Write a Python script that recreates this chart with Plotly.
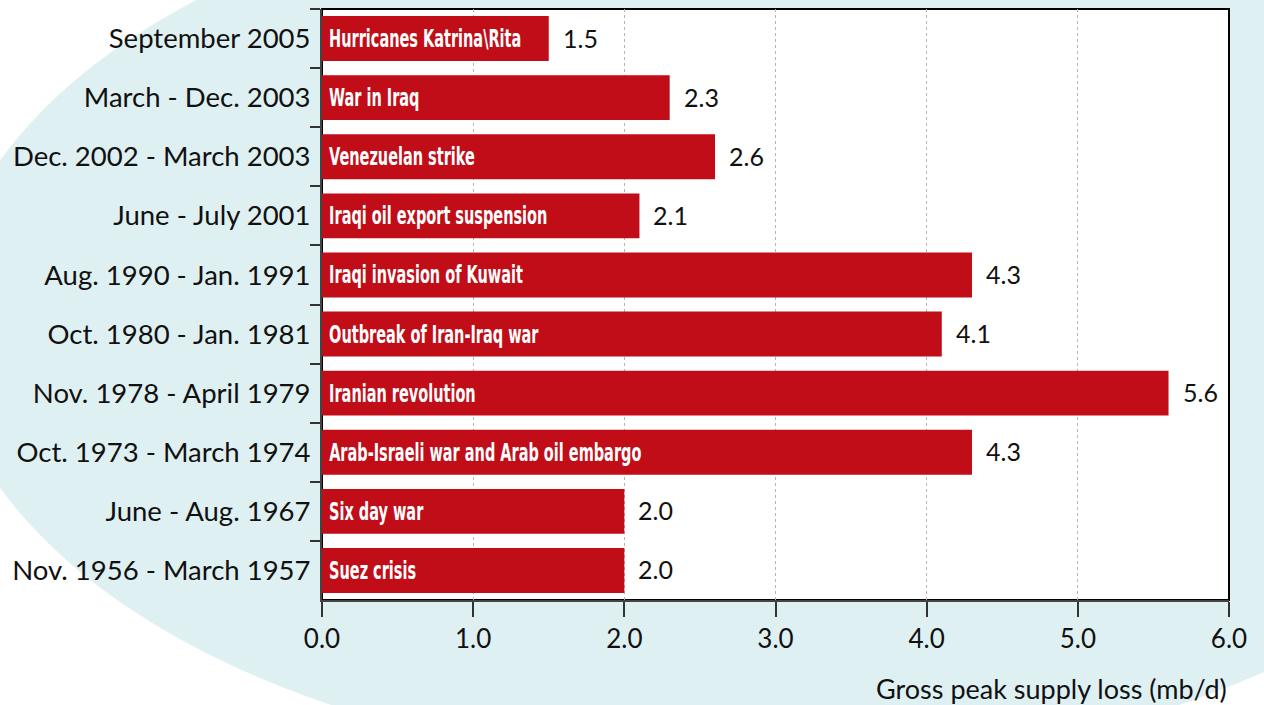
import plotly.graph_objects as go

periods = ["September 2005", "March - Dec. 2003", "Dec. 2002 - March 2003", "June - July 2001",
           "Aug. 1990 - Jan. 1991", "Oct. 1980 - Jan. 1981", "Nov. 1978 - April 1979",
           "Oct. 1973 - March 1974", "June - Aug. 1967", "Nov. 1956 - March 1957"]
events = ["Hurricanes Katrina\\Rita", "War in Iraq", "Venezuelan strike", "Iraqi oil export suspension",
          "Iraqi invasion of Kuwait", "Outbreak of Iran-Iraq war", "Iranian revolution",
          "Arab-Israeli war and Arab oil embargo", "Six day war", "Suez crisis"]
supply_loss = [1.5, 2.3, 2.6, 2.1, 4.3, 4.1, 5.6, 4.3, 2.0, 2.0]
x_ticks = [0, 1, 2, 3, 4, 5, 6]

BAR = "#C10D18"
CYAN = "#DFF0F2"
LABEL_FONT = "Lato"
INNER_FONT = "DejaVu Sans Condensed, Roboto"

fig = go.Figure()
fig.add_trace(go.Bar(
    y=periods, x=supply_loss, orientation="h",
    marker=dict(color=BAR, line=dict(width=0)),
    text=events, textposition="inside", insidetextanchor="start", textangle=0,
    insidetextfont=dict(family=INNER_FONT, size=25, color="white", weight="bold"),
    hoverinfo="skip",
))

annotations = []
for p, v in zip(periods, supply_loss):
    annotations.append(dict(x=v, y=p, xref="x", yref="y", text=f"{v:.1f}", showarrow=False,
                            xanchor="left", yanchor="middle", xshift=12, yshift=1,
                            font=dict(family=LABEL_FONT, size=25, color="#111")))
annotations.append(dict(x=1, y=-0.149, xref="paper", yref="paper", text="Gross peak supply loss (mb/d)",
                        showarrow=False, xanchor="right", yanchor="middle",
                        font=dict(family=LABEL_FONT, size=27, color="#111")))

fig.update_layout(
    width=1264, height=705,
    margin=dict(l=322, r=35, t=9, b=105, pad=0),
    paper_bgcolor="white", plot_bgcolor="white",
    bargap=0.24, showlegend=False,
    uniformtext=dict(mode="show", minsize=25),
    annotations=annotations,
    shapes=[
        dict(type="circle", xref="paper", yref="paper", x0=-0.417, x1=1.372, y0=-0.289, y1=1.223,
             fillcolor=CYAN, line=dict(width=0), layer="below"),
        dict(type="rect", xref="paper", yref="paper", x0=0, x1=1, y0=0, y1=1,
             fillcolor="white", line=dict(color="black", width=2), layer="below"),
    ],
)
fig.update_xaxes(range=[0, 6], tickvals=x_ticks, tickformat=".1f", ticks="outside", ticklen=15,
                 tickwidth=2, tickcolor="#333", showline=True, linecolor="#444", linewidth=2,
                 showgrid=True, gridcolor="#b5b5b5", griddash="dot", gridwidth=1, zeroline=False,
                 tickfont=dict(family=LABEL_FONT, size=26, color="#111"))
fig.update_yaxes(autorange="reversed", ticks="outside", tickson="boundaries", ticklen=10,
                 tickwidth=2, tickcolor="#333", showline=True, linecolor="#444", linewidth=2,
                 showgrid=False, ticklabelstandoff=4,
                 tickfont=dict(family=LABEL_FONT, size=27.5, color="#111"))

# condense the in-bar labels horizontally (the original uses a condensed typeface)
post = """
document.body.style.margin='0px';document.body.style.overflow='hidden';
var gd = document.getElementsByClassName('plotly-graph-div')[0];
gd.querySelectorAll('text.bartext').forEach(function(t){
  var bb = t.getBBox();
  var tr = t.getAttribute('transform') || '';
  var x0 = bb.x;
  t.setAttribute('transform', tr + ' translate(' + (x0 + 4) + ',0) scale(0.645,1) translate(' + (-x0) + ',0)');
});
"""
fig.write_html("out.html", post_script=post, config={"displayModeBar": False})
